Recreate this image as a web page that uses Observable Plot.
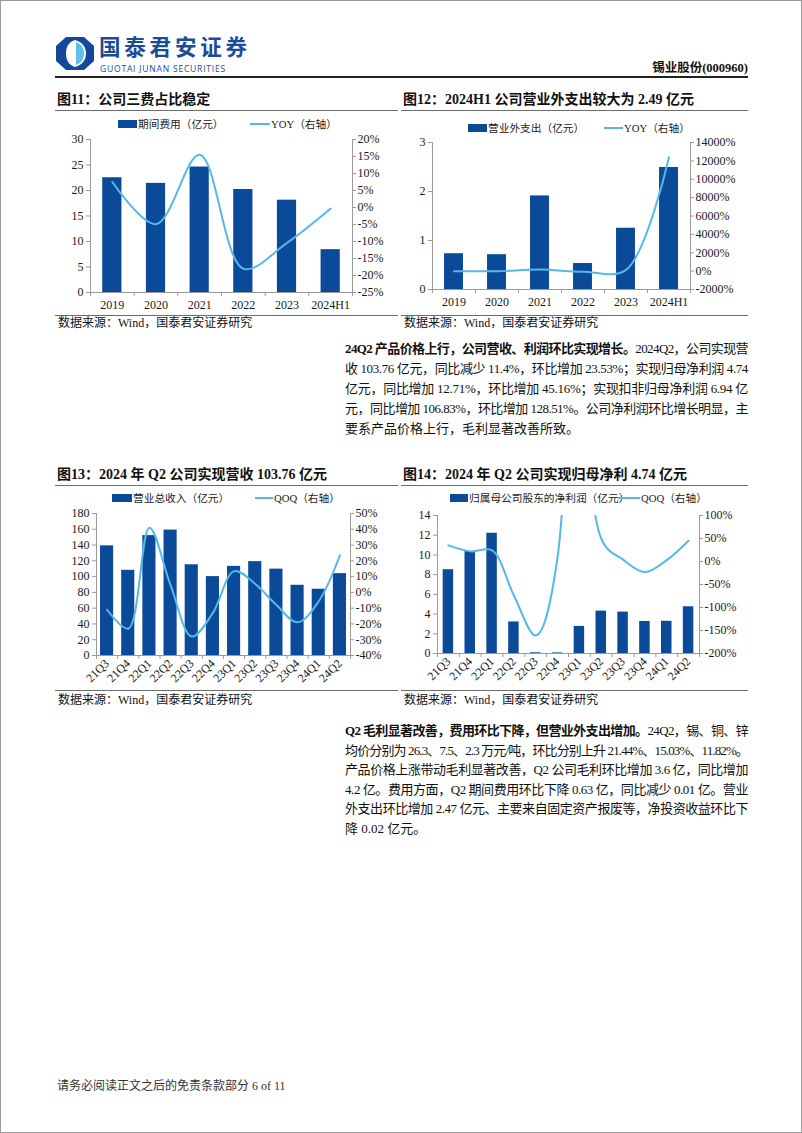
<!DOCTYPE html>
<html><head><meta charset="utf-8">
<script src="https://cdn.jsdelivr.net/npm/d3@7"></script>
<script src="https://cdn.jsdelivr.net/npm/@observablehq/plot@0.6"></script>
<style>
body{margin:0;background:#fff;}
#page{position:relative;width:802px;height:1133px;overflow:hidden;font-family:"Liberation Serif","Noto Sans CJK SC",serif;color:#111;background:#fff;}
#border{position:absolute;left:0;top:0;width:802px;height:1133px;box-sizing:border-box;border:1px solid #9c9c9c;pointer-events:none;}
.abs{position:absolute;white-space:nowrap;}
.title{font-size:14px;font-weight:bold;line-height:18px;}
.src{font-size:12px;line-height:16px;}
.hr{position:absolute;height:0;border-top:1px solid #6d6d6d;}
.lg{position:absolute;font-size:10.7px;line-height:14px;white-space:nowrap;color:#222;}
.pl{position:absolute;left:345px;width:403px;font-size:13px;line-height:16px;text-align:justify;text-align-last:justify;white-space:nowrap;}
.pl.last{text-align-last:left;}
.chart{position:absolute;}
</style></head>
<body><div id="page">
<svg class="abs" style="left:56px;top:37px" width="38" height="33" viewBox="0 0 38 33">
  <path d="M10 0 H28 L38 9 V24 L28 33 H10 L0 24 V9 Z" fill="#16489a"/>
  <path d="M19 3 C27 5 30 11 30 16.5 C30 22 27 28 19 30 C12 28 10 22 10 16.5 C10 11 12 5 19 3 Z" fill="#fff"/>
  <path d="M20 5 C26 7 28 12 28 16.5 C28 21 26 26 20 28 Z" fill="#5fc0ea"/>
</svg>
<div class="abs" style="left:99px;top:34px;font-family:'Noto Sans CJK SC';font-weight:bold;font-size:21.5px;line-height:24px;color:#1a4c9c;letter-spacing:3.8px;">国泰君安证券</div>
<div class="abs" style="left:100px;top:64px;font-family:'Open Sans','Noto Sans',sans-serif;font-size:8.6px;line-height:10px;color:#1a4c9c;letter-spacing:0.75px;">GUOTAI JUNAN SECURITIES</div>
<div class="abs" style="right:54px;top:60px;font-size:12.5px;font-weight:bold;line-height:16px;">锡业股份(000960)</div>
<div class="abs" style="left:55px;top:76px;width:693px;height:2px;background:#222;"></div>

<div class="abs title" style="left:57px;top:91px;">图11：公司三费占比稳定</div>
<div class="hr" style="left:55px;top:110px;width:343px;"></div>
<div class="abs title" style="left:403px;top:91px;">图12：2024H1 公司营业外支出较大为 2.49 亿元</div>
<div class="hr" style="left:401px;top:110px;width:347px;"></div>
<div id="c11" class="chart" style="left:55px;top:130px;"></div>
<div id="c12" class="chart" style="left:400px;top:133px;"></div>
<div class="hr" style="left:55px;top:315px;width:343px;"></div>
<div class="hr" style="left:401px;top:315px;width:347px;"></div>
<div class="abs src" style="left:58px;top:315px;">数据来源：Wind，国泰君安证券研究</div>
<div class="abs src" style="left:404px;top:315px;">数据来源：Wind，国泰君安证券研究</div>

<div class="pl" style="top:341px;"><b>24Q2 产品价格上行，公司营收、利润环比实现增长。</b>2024Q2，公司实现营</div>
<div class="pl" style="top:361px;">收 103.76 亿元，同比减少 11.4%，环比增加 23.53%；实现归母净利润 4.74</div>
<div class="pl" style="top:381px;">亿元，同比增加 12.71%，环比增加 45.16%；实现扣非归母净利润 6.94 亿</div>
<div class="pl" style="top:401px;">元，同比增加 106.83%，环比增加 128.51%。公司净利润环比增长明显，主</div>
<div class="pl last" style="top:421px;">要系产品价格上行，毛利显著改善所致。</div>

<div class="abs title" style="left:57px;top:466px;">图13：2024 年 Q2 公司实现营收 103.76 亿元</div>
<div class="hr" style="left:55px;top:485px;width:343px;"></div>
<div class="abs title" style="left:403px;top:466px;">图14：2024 年 Q2 公司实现归母净利 4.74 亿元</div>
<div class="hr" style="left:401px;top:485px;width:347px;"></div>
<div id="c13" class="chart" style="left:55px;top:503px;"></div>
<div id="c14" class="chart" style="left:400px;top:505px;"></div>
<div class="hr" style="left:55px;top:690px;width:343px;"></div>
<div class="hr" style="left:401px;top:690px;width:347px;"></div>
<div class="abs src" style="left:58px;top:692px;">数据来源：Wind，国泰君安证券研究</div>
<div class="abs src" style="left:404px;top:692px;">数据来源：Wind，国泰君安证券研究</div>

<div class="pl" style="top:723px;"><b>Q2 毛利显著改善，费用环比下降，但营业外支出增加。</b>24Q2，锡、铜、锌</div>
<div class="pl" style="top:742.5px;">均价分别为 26.3、7.5、2.3 万元/吨，环比分别上升 21.44%、15.03%、11.82%。</div>
<div class="pl" style="top:762px;">产品价格上涨带动毛利显著改善，Q2 公司毛利环比增加 3.6 亿，同比增加</div>
<div class="pl" style="top:781.5px;">4.2 亿。费用方面，Q2 期间费用环比下降 0.63 亿，同比减少 0.01 亿。营业</div>
<div class="pl" style="top:801px;">外支出环比增加 2.47 亿元、主要来自固定资产报废等，净投资收益环比下</div>
<div class="pl last" style="top:820.5px;">降 0.02 亿元。</div>

<div class="abs" style="left:57px;top:1078px;font-size:12px;line-height:16px;color:#333;">请务必阅读正文之后的免责条款部分 6 of 11</div>
<div id="border"></div>
</div>
<script>
// ---------- data ----------
const years = ["2019","2020","2021","2022","2023","2024H1"];
const periodExpense = [22.5, 21.4, 24.6, 20.2, 18.1, 8.4];          // 期间费用（亿元）
const periodExpenseYoY = [7.5, -4.9, 15.5, -18.0, -10.4, -0.3];      // YOY %
const nonOpExpense = [0.73, 0.71, 1.91, 0.53, 1.25, 2.49];           // 营业外支出（亿元）
const nonOpExpenseYoY = [-5, -3, 169, -72, 136, 12400];              // YOY %
const quarters = ["21Q3","21Q4","22Q1","22Q2","22Q3","22Q4","23Q1","23Q2","23Q3","23Q4","24Q1","24Q2"];
const revenue = [139, 108, 152, 159, 115, 100, 113, 119, 109.5, 89, 84, 103.76];   // 营业总收入（亿元）
const revenueQoQ = [-11, -23, 41, 4.6, -28, -13, 13.5, 5.3, -8, -19, -5.6, 23.53];   // QOQ %
const netProfit = [8.5, 10.36, 12.2, 3.2, 0.07, 0.06, 2.75, 4.3, 4.2, 3.25, 3.27, 4.74]; // 归母净利润（亿元）
const netProfitQoQ = [35, 22, 24, -74, -161, 10, 3800, 50, 4, -23, 3, 45.16];          // QOQ %

const left11 = [0, 5, 10, 15, 20, 25, 30];
const right11 = [-25, -20, -15, -10, -5, 0, 5, 10, 15, 20];
const left12 = [0, 1, 2, 3];
const right12 = [-2000, 0, 2000, 4000, 6000, 8000, 10000, 12000, 14000];
const left13 = [0, 20, 40, 60, 80, 100, 120, 140, 160, 180];
const right13 = [-40, -30, -20, -10, 0, 10, 20, 30, 40, 50];
const left14 = [0, 2, 4, 6, 8, 10, 12, 14];
const right14 = [-200, -150, -100, -50, 0, 50, 100];

// ---------- styles ----------
const BAR = "#0b4a98", LINE = "#56b8e8", AXIS = "#9a9a9a", TXT = "#1a1a1a";

function legend(y, items) {
  const page = document.getElementById("page");
  for (const it of items) {
    const sw = document.createElement("div");
    sw.style.position = "absolute";
    sw.style.left = it.x + "px";
    sw.style.width = it.w + "px";
    if (it.type === "bar") { sw.style.top = (y - 4) + "px"; sw.style.height = "8px"; sw.style.background = BAR; }
    else { sw.style.top = (y - 1) + "px"; sw.style.height = "2px"; sw.style.background = LINE; }
    page.appendChild(sw);
    const t = document.createElement("div");
    t.className = "lg";
    t.style.left = (it.x + it.w + 1) + "px";
    t.style.top = (y - 7.5) + "px";
    t.textContent = it.label;
    page.appendChild(t);
  }
}

function dual(o) {
  const n = o.cats.length;
  const idx = d3.range(n);
  const r2l = d3.scaleLinear().domain([o.right[0], o.right[o.right.length - 1]])
                              .range([o.left[0], o.left[o.left.length - 1]]);
  const bars = idx.map(i => ({i, v: o.bars[i]}));
  const line = idx.map(i => ({i, v: r2l(o.line[i])}));
  const chart = Plot.plot({
    width: o.width, height: o.height,
    marginLeft: o.ml, marginRight: o.mr, marginTop: o.mt, marginBottom: o.mb,
    style: {fontFamily: "'Liberation Serif','Noto Sans CJK SC',serif", fontSize: "12px", color: TXT, background: "transparent", overflow: "visible"},
    x: {domain: [-0.5, n - 0.5], axis: null},
    y: {domain: [o.left[0], o.left[o.left.length - 1]], axis: null},
    marks: [
      Plot.rectY(bars, {x1: d => d.i - o.bw / 2, x2: d => d.i + o.bw / 2, y1: o.left[0], y2: "v", fill: BAR, clip: true}),
      Plot.ruleX([-0.5, n - 0.5], {stroke: AXIS}),
      Plot.ruleY([o.left[0]], {stroke: AXIS}),
      Plot.axisX(d3.range(n + 1).map(i => i - 0.5), {label: null, tickSize: 4, tickFormat: () => "", stroke: AXIS}),
      Plot.axisX(idx, {label: null, tickSize: 0, tickPadding: o.rot ? 6 : 8, tickRotate: o.rot || 0, tickFormat: i => o.cats[i], fill: TXT, fontSize: o.xfs || "12px"}),
      Plot.axisY(o.left, {label: null, anchor: "left", tickSize: 4, tickPadding: 3, tickFormat: d => String(d), stroke: AXIS, fill: TXT}),
      Plot.axisY(o.right.map(r2l), {label: null, anchor: "right", tickSize: 3, tickPadding: 2, tickFormat: d => Math.round(r2l.invert(d)) + "%", stroke: AXIS, fill: TXT}),
      Plot.lineY(line, {x: "i", y: "v", stroke: LINE, strokeWidth: 2, curve: "catmull-rom", clip: true})
    ]
  });
  document.getElementById(o.id).appendChild(chart);
}

dual({id: "c11", cats: years, bars: periodExpense, line: periodExpenseYoY, left: left11, right: right11,
      width: 345, height: 185, ml: 35, mr: 48, mt: 9, mb: 23, bw: 0.44});
dual({id: "c12", cats: years, bars: nonOpExpense, line: nonOpExpenseYoY, left: left12, right: right12,
      width: 350, height: 182, ml: 32, mr: 60, mt: 9, mb: 26, bw: 0.44});
dual({id: "c13", cats: quarters, bars: revenue, line: revenueQoQ, left: left13, right: right13,
      width: 345, height: 187, ml: 41, mr: 50, mt: 10, mb: 35, bw: 0.62, rot: -45, xfs: "12px"});
dual({id: "c14", cats: quarters, bars: netProfit, line: netProfitQoQ, left: left14, right: right14,
      width: 350, height: 185, ml: 37, mr: 51, mt: 10, mb: 37, bw: 0.48, rot: -45, xfs: "12px"});

legend(124, [{type: "bar", x: 118, w: 19, label: "期间费用（亿元）"}, {type: "line", x: 250, w: 20, label: "YOY（右轴）"}]);
legend(128, [{type: "bar", x: 468, w: 19, label: "营业外支出（亿元）"}, {type: "line", x: 604, w: 19, label: "YOY（右轴）"}]);
legend(498, [{type: "bar", x: 112, w: 20, label: "营业总收入（亿元）"}, {type: "line", x: 255, w: 18, label: "QOQ（右轴）"}]);
legend(498, [{type: "bar", x: 450, w: 18, label: "归属母公司股东的净利润（亿元）"}, {type: "line", x: 618, w: 22, label: "QOQ（右轴）"}]);

// fit each justified paragraph line into its box
document.querySelectorAll(".pl").forEach(el => {
  const probe = document.createElement("span");
  probe.innerHTML = el.innerHTML;
  probe.style.cssText = "position:absolute;visibility:hidden;white-space:nowrap;font-size:13px;";
  document.getElementById("page").appendChild(probe);
  const w = probe.getBoundingClientRect().width;
  const chars = probe.textContent.length;
  probe.remove();
  if (w > 403) el.style.letterSpacing = ((403 - w) / chars) + "px";
});
</script>
</body></html>
